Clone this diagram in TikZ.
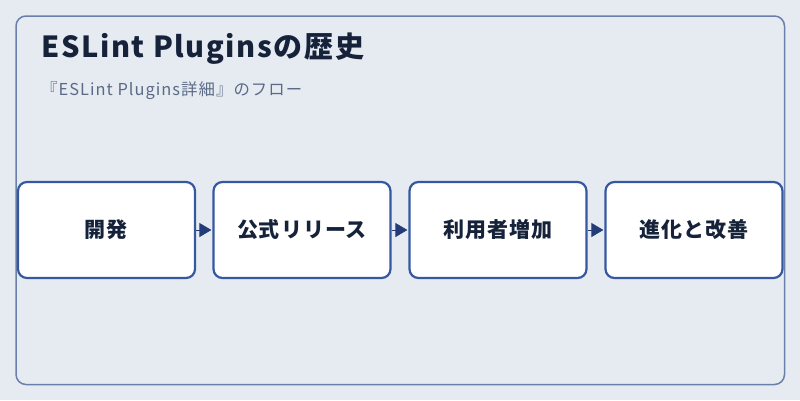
\documentclass[tikz,border=0pt]{standalone}
\usepackage{fontspec}
\setmainfont{Noto Sans CJK JP}
\usetikzlibrary{arrows.meta}
\definecolor{bgc}{HTML}{E6EBF1}
\definecolor{framec}{HTML}{6A80AB}
\definecolor{boxc}{HTML}{3558A0}
\definecolor{arrc}{HTML}{233C78}
\definecolor{titlec}{HTML}{15223A}
\definecolor{subc}{HTML}{5B6B87}
\tikzset{
  stepbox/.style={draw=boxc, line width=2.2pt, fill=white, rounded corners=9pt,
    minimum width=177pt, minimum height=96pt, inner sep=0pt,
    font=\fontsize{21}{24}\selectfont\bfseries\addfontfeature{LetterSpace=4.8}, text=titlec},
  flow/.style={draw=arrc, fill=arrc, line width=0.8pt,
    -{Triangle[length=12pt,width=14pt]}, shorten >=1pt}
}
\begin{document}
\begin{tikzpicture}[x=1pt,y=-1pt]
\fill[bgc] (0,0) rectangle (800,400);
\useasboundingbox (0,0) rectangle (800,400);
\draw[framec, line width=1.5pt, rounded corners=10pt] (16,16) rectangle (784.5,384.5);
\node[anchor=base west, text=titlec, font=\fontsize{29}{32}\selectfont\bfseries\addfontfeature{LetterSpace=5.6}, inner sep=0pt] (title) at (41,57.5) {ESLint Pluginsの歴史};
\node[anchor=base west, text=subc, font=\fontsize{16.4}{19}\selectfont\addfontfeature{LetterSpace=6.3}, inner sep=0pt] (sub) at (41,95) {『ESLint Plugins詳細』のフロー};
\node[stepbox] (s1) at (106.5,230) {開発};
\node[stepbox] (s2) at (302,230) {公式リリース};
\node[stepbox] (s3) at (498,230) {利用者増加};
\node[stepbox] (s4) at (694,230) {進化と改善};
\draw[flow] (s1.east) -- (s2.west);
\draw[flow] (s2.east) -- (s3.west);
\draw[flow] (s3.east) -- (s4.west);
\end{tikzpicture}
\end{document}
